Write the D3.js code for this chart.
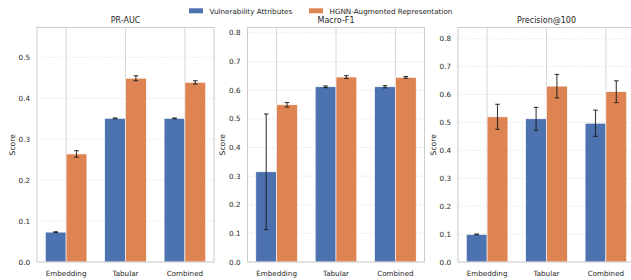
<!DOCTYPE html>
<html><head><meta charset="utf-8">
<script src="https://cdn.jsdelivr.net/npm/d3@7"></script>
<style>body{margin:0;background:#fff}svg{display:block}text{font-family:"DejaVu Sans",sans-serif;fill:#262626}</style>
</head><body><svg id="c" width="631" height="280"></svg>
<script>
const categories = ["Embedding", "Tabular", "Combined"];
const seriesNames = ["Vulnerability Attributes", "HGNN-Augmented Representation"];
const metrics = ["PR-AUC", "Macro-F1", "Precision@100"];
const prVuln = [0.073, 0.351, 0.351];
const prVulnErr = [0.001, 0.001, 0.001];
const prHgnn = [0.264, 0.449, 0.439];
const prHgnnErr = [0.008, 0.006, 0.004];
const f1Vuln = [0.315, 0.612, 0.612];
const f1VulnErr = [0.202, 0.003, 0.004];
const f1Hgnn = [0.549, 0.646, 0.645];
const f1HgnnErr = [0.008, 0.005, 0.003];
const pVuln = [0.099, 0.513, 0.497];
const pVulnErr = [0.001, 0.041, 0.047];
const pHgnn = [0.520, 0.630, 0.610];
const pHgnnErr = [0.045, 0.042, 0.039];
const yMax = [0.573, 0.819, 0.84];
const yTicks = [[0,0.1,0.2,0.3,0.4,0.5],[0,0.1,0.2,0.3,0.4,0.5,0.6,0.7,0.8],[0,0.1,0.2,0.3,0.4,0.5,0.6,0.7,0.8]];
const colors = ["#4C72B0", "#DD8452"];

const panels = [
  {vals:[prVuln, prHgnn], errs:[prVulnErr, prHgnnErr]},
  {vals:[f1Vuln, f1Hgnn], errs:[f1VulnErr, f1HgnnErr]},
  {vals:[pVuln, pHgnn], errs:[pVulnErr, pHgnnErr]}
];
const svg = d3.select("#c");
const lefts = [37, 247.5, 458], W = 177, plotTop = 27.5, plotBottom = 262;
const barW = 0.35;

panels.forEach((p, i) => {
  const g = svg.append("g");
  const x = d3.scaleLinear().domain([-0.49, 2.49]).range([lefts[i], lefts[i] + W]);
  const y = d3.scaleLinear().domain([0, yMax[i]]).range([plotBottom, plotTop]);
  g.selectAll(".hg").data(yTicks[i]).join("line")
    .attr("x1", x.range()[0]).attr("x2", x.range()[1])
    .attr("y1", d => y(d)).attr("y2", d => y(d))
    .attr("stroke", "#e3e3e3").attr("stroke-width", 0.8).attr("stroke-dasharray", "2,1.5");
  g.selectAll(".vg").data(categories).join("line")
    .attr("x1", (d, j) => x(j)).attr("x2", (d, j) => x(j))
    .attr("y1", plotTop).attr("y2", plotBottom)
    .attr("stroke", "#d6d6d6").attr("stroke-width", 1);
  p.vals.forEach((vals, s) => {
    const off = s === 0 ? -barW : 0;
    g.selectAll(".b" + s).data(vals).join("rect")
      .attr("x", (d, j) => x(j + off)).attr("width", x(barW) - x(0))
      .attr("y", d => y(d)).attr("height", d => plotBottom - y(d))
      .attr("fill", colors[s]).attr("stroke", "#fff").attr("stroke-width", 0.6);
  });
  p.vals.forEach((vals, s) => {
    const off = s === 0 ? -barW / 2 : barW / 2;
    vals.forEach((v, j) => {
      const e = p.errs[s][j], cx = x(j + off);
      const eg = g.append("g").attr("stroke", "#1a1a1a").attr("stroke-opacity", 0.85).attr("stroke-width", 1.1);
      eg.append("line").attr("x1", cx).attr("x2", cx).attr("y1", y(v - e)).attr("y2", y(v + e));
      [v - e, v + e].forEach(t => eg.append("line").attr("x1", cx - 2.3).attr("x2", cx + 2.3).attr("y1", y(t)).attr("y2", y(t)));
    });
  });
  g.append("rect").attr("x", x.range()[0]).attr("y", plotTop).attr("width", W).attr("height", plotBottom - plotTop)
    .attr("fill", "none").attr("stroke", "#cccccc").attr("stroke-width", 1);
  g.selectAll(".yt").data(yTicks[i]).join("text")
    .attr("x", x.range()[0] - 7).attr("y", d => y(d)).attr("dy", "0.35em")
    .attr("text-anchor", "end").attr("font-size", 7.2).text(d => d.toFixed(1));
  g.selectAll(".xt").data(categories).join("text")
    .attr("x", (d, j) => x(j)).attr("y", 275.5)
    .attr("text-anchor", "middle").attr("font-size", 7.2).text(d => d);
  g.append("text").attr("x", x.range()[0] + W / 2).attr("y", 22.8)
    .attr("text-anchor", "middle").attr("font-size", 8).text(metrics[i]);
  g.append("text").attr("transform", `translate(${x.range()[0] - 22.5},${(plotTop + plotBottom) / 2}) rotate(-90)`)
    .attr("text-anchor", "middle").attr("font-size", 7.6).text("Score");
});

const leg = svg.append("g");
const legX = [189, 309];
seriesNames.forEach((n, s) => {
  leg.append("rect").attr("x", legX[s]).attr("y", 8.3).attr("width", 14).attr("height", 5).attr("fill", colors[s]);
  leg.append("text").attr("x", legX[s] + 20.5).attr("y", 13.6).attr("font-size", 7.2).text(n);
});
</script></body></html>
